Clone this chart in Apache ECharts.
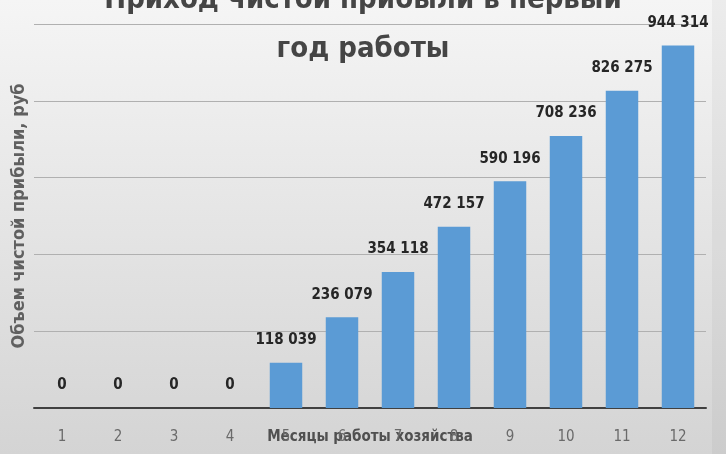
<!DOCTYPE html>
<html><head><meta charset="utf-8">
<script src="https://cdn.jsdelivr.net/npm/echarts@6/dist/echarts.min.js"></script>
<style>html,body{margin:0;padding:0;}#c{width:726px;height:454px;}</style>
</head><body><div id="c"></div>
<script>
var months = ['1','2','3','4','5','6','7','8','9','10','11','12'];
var profit = [0,0,0,0,118039,236079,354118,472157,590196,708236,826275,944314];
var titleText = 'Приход чистой прибыли в первый\nгод работы';
var yName = 'Объем чистой прибыли, руб';
var xName = 'Месяцы работы хозяйства';

function fmt(v){ return String(v).replace(/\B(?=(\d{3})+(?!\d))/g, ' '); }
var narrow = '"Liberation Sans Narrow", "Arial Narrow", "DejaVu Sans Condensed", sans-serif';
var chart = echarts.init(document.getElementById('c'));
chart.setOption({
  backgroundColor: new echarts.graphic.LinearGradient(0,0,0,1,[
    {offset:0,color:'#f5f5f5'},{offset:1,color:'#d4d4d4'}]),
  animation:false,
  graphic:[{type:'rect',right:0,top:0,shape:{width:14,height:454},
    style:{fill:'rgba(0,0,0,0.035)'},silent:true,z:-1}],
  title:{text:titleText,left:'center',top:-29,
    textStyle:{fontFamily:narrow,fontSize:29,fontWeight:'bold',color:'#454545',lineHeight:49}},
  grid:{left:34,right:20,top:24,bottom:46,containLabel:false,outerBoundsMode:'none'},
  xAxis:{type:'category',data:months,name:xName,nameLocation:'middle',nameGap:22,nameMoveOverlap:false,
    nameTextStyle:{fontFamily:narrow,fontSize:15,fontWeight:'bold',color:'#505050',verticalAlign:'top'},
    axisLine:{lineStyle:{color:'#404040',width:2}},axisTick:{show:false},
    axisLabel:{margin:22,fontFamily:narrow,fontSize:15,color:'#6a6a6a'}},
  yAxis:{type:'value',min:0,max:1000000,interval:200000,name:yName,nameLocation:'middle',nameGap:6,
    nameMoveOverlap:false,
    nameTextStyle:{fontFamily:narrow,fontSize:18,fontWeight:'bold',color:'#606060'},
    axisLabel:{show:false},axisLine:{show:false},axisTick:{show:false},
    splitLine:{lineStyle:{color:'#b0b0b0',width:1}}},
  series:[{type:'bar',data:profit,barWidth:'58%',
    itemStyle:{color:'#5b9bd5'},
    label:{show:true,position:'top',distance:15,formatter:function(p){return fmt(p.value);},
      fontFamily:narrow,fontSize:15,fontWeight:'bold',color:'#262626'}}]
});
</script></body></html>
